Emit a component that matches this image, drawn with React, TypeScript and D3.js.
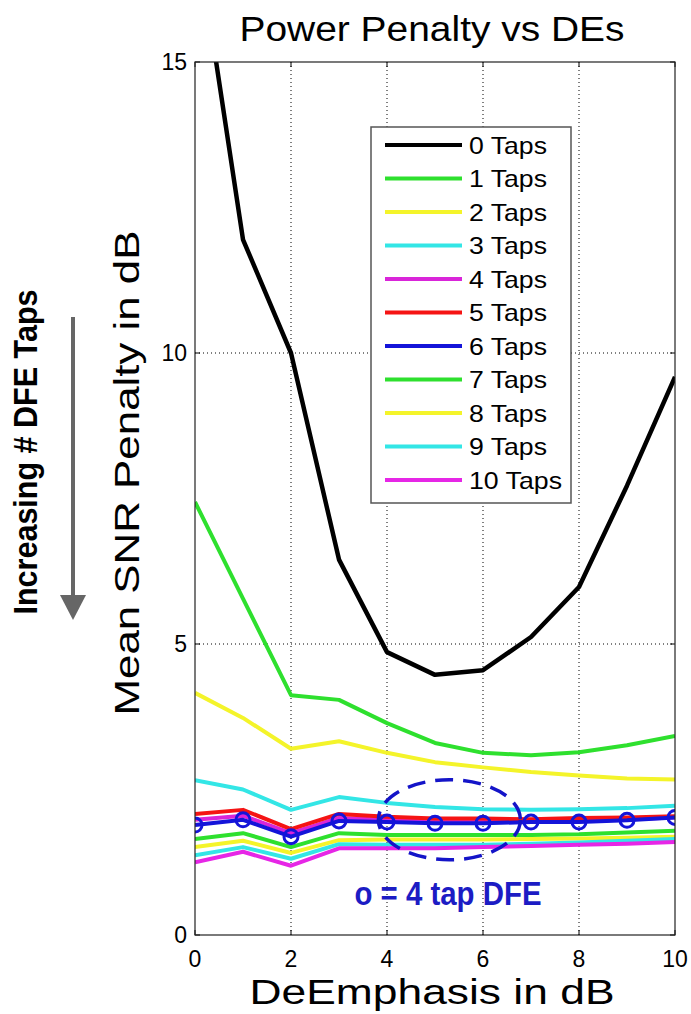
import React from "react";
import * as d3 from "d3";

// De-emphasis settings (dB)
const deEmphasis = [0, 1, 2, 3, 4, 5, 6, 7, 8, 9, 10];

// Mean SNR penalty (dB) per number of DFE taps
const taps0 = [17.4, 11.95, 10.0, 6.45, 4.86, 4.47, 4.55, 5.12, 5.98, 7.72, 9.59];
const taps1 = [7.44, 5.78, 4.12, 4.04, 3.64, 3.3, 3.13, 3.09, 3.14, 3.26, 3.42];
const taps2 = [4.16, 3.73, 3.2, 3.33, 3.13, 2.97, 2.88, 2.8, 2.74, 2.69, 2.67];
const taps3 = [2.66, 2.5, 2.15, 2.37, 2.27, 2.2, 2.16, 2.15, 2.16, 2.18, 2.22];
const taps4 = [1.98, 2.05, 1.75, 2.01, 1.98, 1.95, 1.95, 1.96, 1.97, 1.99, 2.02];
const taps5 = [2.08, 2.15, 1.82, 2.08, 2.03, 2.0, 2.0, 1.99, 2.01, 2.02, 2.04];
const taps6 = [1.89, 1.98, 1.69, 1.96, 1.94, 1.92, 1.92, 1.94, 1.94, 1.97, 2.02];
const taps7 = [1.65, 1.75, 1.51, 1.75, 1.72, 1.72, 1.72, 1.72, 1.73, 1.76, 1.79];
const taps8 = [1.51, 1.62, 1.41, 1.63, 1.64, 1.64, 1.64, 1.65, 1.66, 1.67, 1.69];
const taps9 = [1.37, 1.51, 1.31, 1.56, 1.55, 1.55, 1.55, 1.57, 1.59, 1.62, 1.65];
const taps10 = [1.25, 1.43, 1.19, 1.49, 1.49, 1.49, 1.51, 1.53, 1.55, 1.57, 1.6];

const seriesNames = [
  "0 Taps", "1 Taps", "2 Taps", "3 Taps", "4 Taps", "5 Taps",
  "6 Taps", "7 Taps", "8 Taps", "9 Taps", "10 Taps",
];
const seriesValues = [taps0, taps1, taps2, taps3, taps4, taps5, taps6, taps7, taps8, taps9, taps10];
const seriesColors = [
  "#000000", "#2ee02e", "#f4f42a", "#33e6e6", "#d925d9", "#f51414",
  "#1414d9", "#2ee02e", "#f4f42a", "#33e6e6", "#e626e6",
];

// Markers of the 4 tap DFE result
const markerValues = taps6;

const xTicks = [0, 2, 4, 6, 8, 10];
const yTicks = [0, 5, 10, 15];

const W = 691;
const H = 1014;
const left = 195;
const right = 675;
const top = 62;
const bottom = 935;

export default function App() {
  const x = d3.scaleLinear().domain([0, 10]).range([left, right]);
  const y = d3.scaleLinear().domain([0, 15]).range([bottom, top]);
  const line = d3
    .line<number>()
    .x((_, i) => x(deEmphasis[i]))
    .y((d) => y(d));

  const font = "Liberation Sans, Arial, Helvetica, sans-serif";
  const narrow = "Liberation Sans Narrow, Arial Narrow, Liberation Sans, sans-serif";
  const blueText = "#1c1cc4";

  const legX = 371;
  const legY = 127;
  const legW = 200;
  const legH = 376;
  const rowH = 33.5;

  return (
    <svg
      width={W}
      height={H}
      viewBox={`0 0 ${W} ${H}`}
      style={{ position: "absolute", left: 0, top: 0, background: "#fff" }}
    >
      <defs>
        <clipPath id="plotArea">
          <rect x={left} y={top} width={right - left} height={bottom - top} />
        </clipPath>
      </defs>

      <rect x={0} y={0} width={W} height={H} fill="#fff" />

      {/* grid */}
      {xTicks.slice(1, -1).map((t) => (
        <line
          key={`gx${t}`}
          x1={x(t)}
          x2={x(t)}
          y1={top}
          y2={bottom}
          stroke="#000"
          strokeWidth={1}
          strokeDasharray="1 3"
        />
      ))}
      {yTicks.slice(1, -1).map((t) => (
        <line
          key={`gy${t}`}
          x1={left}
          x2={right}
          y1={y(t)}
          y2={y(t)}
          stroke="#000"
          strokeWidth={1}
          strokeDasharray="1 3"
        />
      ))}

      {/* tick marks on all four sides */}
      {xTicks.map((t) => (
        <g key={`tx${t}`} stroke="#000" strokeWidth={1}>
          <line x1={x(t)} x2={x(t)} y1={bottom} y2={bottom - 5} />
          <line x1={x(t)} x2={x(t)} y1={top} y2={top + 5} />
        </g>
      ))}
      {yTicks.map((t) => (
        <g key={`ty${t}`} stroke="#000" strokeWidth={1}>
          <line x1={left} x2={left + 5} y1={y(t)} y2={y(t)} />
          <line x1={right} x2={right - 5} y1={y(t)} y2={y(t)} />
        </g>
      ))}

      {/* series */}
      <g clipPath="url(#plotArea)">
        {seriesValues.map((vals, i) => (
          <path
            key={seriesNames[i]}
            d={line(vals) ?? ""}
            fill="none"
            stroke={seriesColors[i]}
            strokeWidth={i === 0 ? 4.5 : 4}
            strokeLinejoin="round"
          />
        ))}
        {markerValues.map((v, i) => (
          <circle
            key={`m${i}`}
            cx={x(deEmphasis[i])}
            cy={y(v)}
            r={7}
            fill="none"
            stroke="#1414d9"
            strokeWidth={3}
          />
        ))}
      </g>

      {/* frame */}
      <rect
        x={left}
        y={top}
        width={right - left}
        height={bottom - top}
        fill="none"
        stroke="#222"
        strokeWidth={1.2}
      />

      {/* tick labels */}
      {xTicks.map((t) => (
        <text
          key={`xl${t}`}
          x={x(t)}
          y={967}
          textAnchor="middle"
          fontFamily={font}
          fontSize={23}
          fill="#000"
        >
          {t}
        </text>
      ))}
      {yTicks.map((t) => (
        <text
          key={`yl${t}`}
          x={187}
          y={y(t) + 8}
          textAnchor="end"
          fontFamily={font}
          fontSize={23}
          fill="#000"
        >
          {t}
        </text>
      ))}

      {/* titles */}
      <text
        x={432}
        y={41}
        textAnchor="middle"
        fontFamily={font}
        fontSize={35}
        textLength={385}
        lengthAdjust="spacingAndGlyphs"
        fill="#000"
      >
        Power Penalty vs DEs
      </text>
      <text
        x={432}
        y={1004}
        textAnchor="middle"
        fontFamily={font}
        fontSize={35}
        textLength={365}
        lengthAdjust="spacingAndGlyphs"
        fill="#000"
      >
        DeEmphasis in dB
      </text>
      <text
        transform={`translate(139, 473) rotate(-90)`}
        textAnchor="middle"
        fontFamily={font}
        fontSize={35}
        textLength={485}
        lengthAdjust="spacingAndGlyphs"
        fill="#000"
      >
        Mean SNR Penalty in dB
      </text>

      {/* legend */}
      <rect
        x={legX}
        y={legY}
        width={legW}
        height={legH}
        fill="#fff"
        stroke="#555"
        strokeWidth={1.5}
      />
      {seriesNames.map((name, i) => {
        const ry = legY + 18 + i * rowH;
        return (
          <g key={`leg${name}`}>
            <line
              x1={385}
              x2={462}
              y1={ry}
              y2={ry}
              stroke={seriesColors[i]}
              strokeWidth={4}
            />
            <text
              x={469}
              y={ry + 8.5}
              fontFamily={font}
              fontSize={24}
              textLength={name.length === 6 ? 78 : 93}
              lengthAdjust="spacingAndGlyphs"
              fill="#000"
            >
              {name}
            </text>
          </g>
        );
      })}

      {/* dashed highlight around the 4 tap DFE markers */}
      <ellipse
        cx={x(5.3)}
        cy={y(1.98)}
        rx={71}
        ry={40}
        fill="none"
        stroke="#1414c8"
        strokeWidth={3.5}
        strokeDasharray="18 10"
      />
      <text
        x={448}
        y={905}
        textAnchor="middle"
        fontFamily={narrow}
        fontWeight="bold"
        fontSize={33}
        textLength={187}
        lengthAdjust="spacingAndGlyphs"
        fill={blueText}
      >
        o = 4 tap DFE
      </text>

      {/* side annotation */}
      <text
        transform={`translate(37, 452) rotate(-90)`}
        textAnchor="middle"
        fontFamily={narrow}
        fontWeight="bold"
        fontSize={33}
        textLength={325}
        lengthAdjust="spacingAndGlyphs"
        fill="#000"
      >
        Increasing # DFE Taps
      </text>
      <line x1={73} x2={73} y1={317} y2={598} stroke="#666" strokeWidth={4} />
      <path d="M60,595 L86,595 L73,620 Z" fill="#666" />
    </svg>
  );
}
